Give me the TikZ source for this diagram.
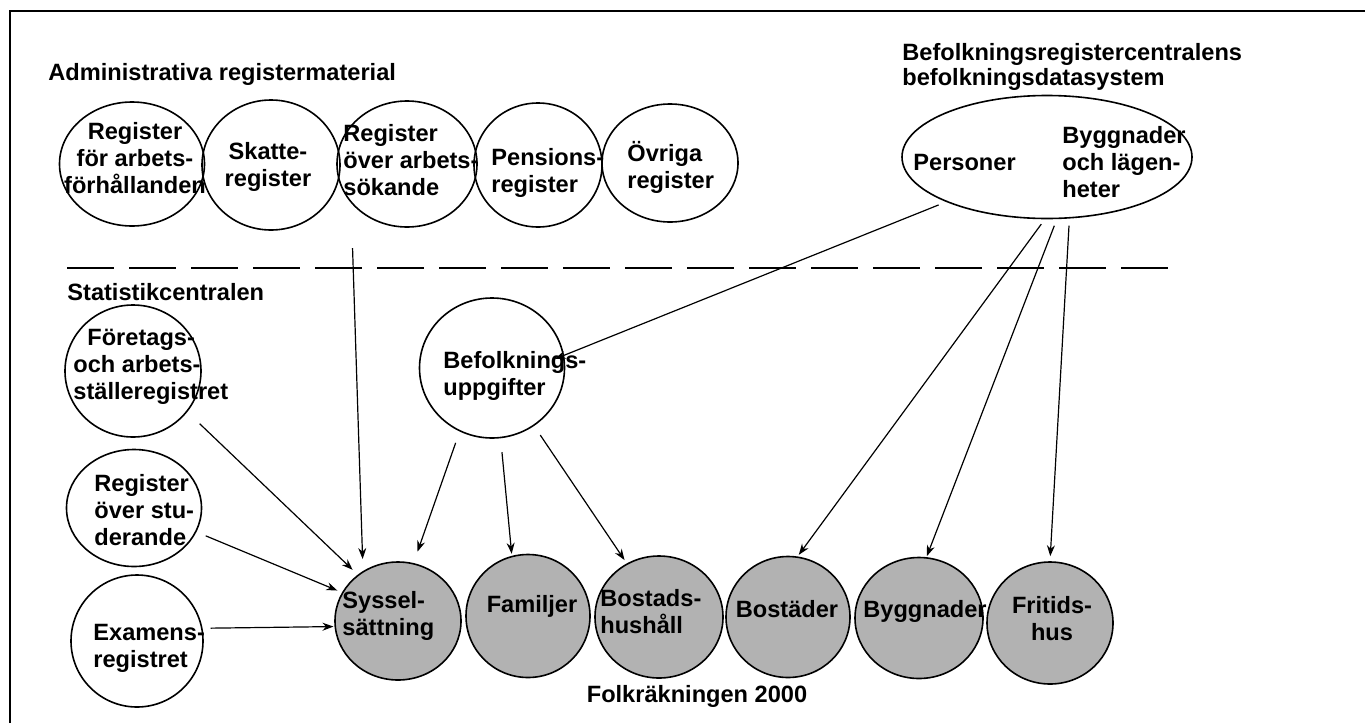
\documentclass[tikz,border=0pt]{standalone}
\usepackage{fontspec}
\setmainfont{Liberation Sans}
\usetikzlibrary{shapes.geometric, arrows.meta, positioning}

\begin{document}
\begin{tikzpicture}[x=0.5pt, y=-0.5pt,
    font=\fontsize{11.8}{13.5}\selectfont\bfseries,
    bub/.style 2 args={draw, ellipse, line width=0.8pt, inner sep=0pt,
        minimum width=#1*0.5pt, minimum height=#2*0.5pt},
    census/.style 2 args={bub={#1}{#2}, fill=black!30},
    lbl/.style={inner sep=0pt, align=center},
    lbll/.style={inner sep=0pt, align=left, anchor=west},
    head/.style={inner sep=0pt, anchor=base west},
    arr/.style={line width=0.6pt, -{Stealth[length=5.5pt, width=4pt]}}]

    \useasboundingbox (0,0) rectangle (1365,723);

    % Frame
    \draw[line width=0.8pt] (10,723) -- (10,11) -- (1365,11);

    % Administrative registers
    \node[head] (admhead) at (48,80) {Administrativa registermaterial};
    \node[bub={145}{124}] (arb) at (132,164) {};
    \node[bub={138}{130}] (skatt) at (271,165) {};
    \node[bub={140}{126}] (ask) at (407,164) {};
    \node[bub={128}{124}] (pens) at (538,165) {};
    \node[bub={136}{118}] (ovr) at (670,163) {};
    \node[lbl] (arbtxt) at (135,158.5) {Register\\för arbets-\\förhållanden};
    \node[lbl] (skatttxt) at (268,166.5) {Skatte-\\register};
    \node[lbll] (asktxt) at (343,160.5) {Register\\över arbets-\\sökande};
    \node[lbll] (penstxt) at (491,172.5) {Pensions-\\register};
    \node[lbll] (ovrtxt) at (627,167.5) {Övriga\\register};

    % Population register centre
    \node[head] (brchead) at (902,60) {Befolkningsregistercentralens};
    \node[head] (brchead2) at (902,85) {befolkningsdatasystem};
    \node[bub={290}{123}] (brc) at (1047,157) {};
    \node[head] (perstxt) at (913,170) {Personer};
    \node[lbll] (bygltxt) at (1062,162) {Byggnader\\och lägen-\\heter};

    % Dividing line
    \draw[line width=0.7pt, dash pattern=on 23.5pt off 7.5pt] (67,268) -- (1171,268);

    % Statistics Finland
    \node[head] (schead) at (67,300) {Statistikcentralen};
    \node[bub={136}{132}] (fre) at (133,371) {};
    \node[bub={135}{117}] (stu) at (134,508) {};
    \node[bub={132}{132}] (exa) at (137,641) {};
    \node[bub={145}{140}] (bef) at (492,368) {};
    \node[lbll] (fretxt) at (73,367) {\hspace*{7pt}Företags-\\och arbets-\\ställeregistret};
    \node[lbll] (stutxt) at (94,510) {Register\\ över stu-\\derande};
    \node[lbll] (exatxt) at (93,648) {Examens-\\registret};
    \node[lbll] (beftxt) at (443,376) {Befolknings-\\uppgifter};

    % Census 2000
    \node[census={126}{118}] (sys) at (398,621) {};
    \node[census={124}{123}] (fam) at (528,616) {};
    \node[census={128}{122}] (hus) at (659,617) {};
    \node[census={124}{121}] (bos) at (788,617) {};
    \node[census={128}{121}] (byg) at (919,618) {};
    \node[census={126}{122}] (fri) at (1050,623) {};
    \node[lbll] (systxt) at (342,616) {Syssel-\\sättning};
    \node[lbl, anchor=base] (famtxt) at (532,612) {Familjer};
    \node[lbll] (hustxt) at (600,612) {Bostads-\\hushåll};
    \node[lbl, anchor=base] (bostxt) at (787,617) {Bostäder};
    \node[lbl, anchor=base] (bygtxt) at (925,617) {Byggnader};
    \node[lbl] (fritxt) at (1052,619) {Fritids-\\hus};
    \node[lbl, anchor=base] (fkhead) at (697,702) {Folkräkningen 2000};

    % Flows
    \draw[arr, shorten <=4pt, shorten >=-5pt] (brc.204) -- (bef.10);
    \draw[arr, shorten <=3pt, shorten >=1pt] (brc.268) -- (bos.81);
    \draw[arr, shorten <=3.5pt, shorten >=0.5pt] (brc.279) -- (byg.83);
    \draw[arr, shorten <=3.5pt, shorten >=2.5pt] (brc.290) -- (fri.90);
    \draw[arr, shorten <=6pt, shorten >=6pt] (bef.243) -- (sys.75);
    \draw[arr, shorten <=7pt, shorten >=1pt] (bef.277) -- (fam.105);
    \draw[arr, shorten <=5.5pt, shorten >=2pt] (bef.306) -- (hus.121);
    \draw[arr, shorten <=22.5pt, shorten >=6pt] (ask.215) -- (sys.125);
    \draw[arr, shorten <=8.5pt, shorten >=3.5pt] (fre.323) -- (sys.131);
    \draw[arr, shorten <=5pt, shorten >=2.5pt] (stu.339) -- (sys.153);
    \draw[arr, shorten <=4pt, shorten >=0.5pt] (exa.11) -- (sys.185);

\end{tikzpicture}
\end{document}
